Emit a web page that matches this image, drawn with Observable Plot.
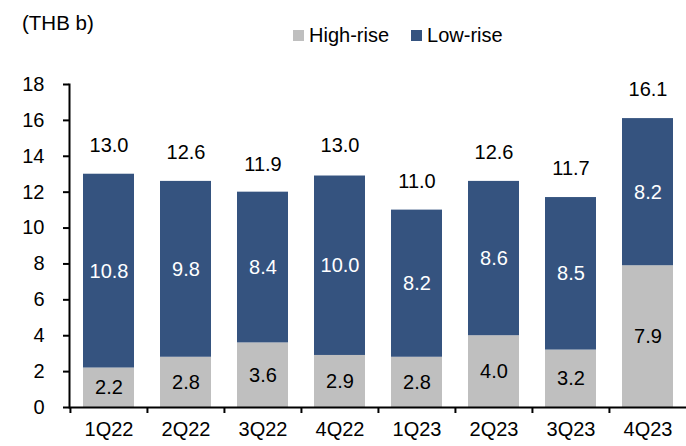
<!DOCTYPE html>
<html>
<head>
<meta charset="utf-8">
<script src="https://cdn.jsdelivr.net/npm/d3@7"></script>
<script src="https://cdn.jsdelivr.net/npm/@observablehq/plot@0.6"></script>
<style>
  body { margin: 0; background: #fff; font-family: "Liberation Sans", Arial, sans-serif; }
  #wrap { width: 686px; position: relative; }
  #head { position: relative; height: 50px; width: 686px; }
  #unit { position: absolute; left: 22px; top: 12px; font-size: 20.5px; line-height: 22px; color: #000; }
  #legend { position: absolute; left: 293px; top: 24px; height: 22px; font-size: 20px; line-height: 22px; color: #000; display: flex; align-items: center; }
  #legend span.sw { display: inline-block; width: 11px; height: 11px; margin-right: 5px; }
  #legend span.item { display: inline-flex; align-items: center; margin-right: 22px; }
</style>
</head>
<body>
<div id="wrap">
  <div id="head">
    <div id="unit">(THB b)</div>
    <div id="legend"></div>
  </div>
  <div id="chart"></div>
</div>
<script>
const quarters = ["1Q22","2Q22","3Q22","4Q22","1Q23","2Q23","3Q23","4Q23"];
const highRise = [2.2, 2.8, 3.6, 2.9, 2.8, 4.0, 3.2, 7.9];
const lowRise  = [10.8, 9.8, 8.4, 10.0, 8.2, 8.6, 8.5, 8.2];
const totals   = [13.0, 12.6, 11.9, 13.0, 11.0, 12.6, 11.7, 16.1];
const seriesNames = ["High-rise", "Low-rise"];
const seriesColors = ["#bfbfbf", "#35537f"];
const yTicks = [0, 2, 4, 6, 8, 10, 12, 14, 16, 18];

const legend = document.getElementById("legend");
seriesNames.forEach((s, i) => {
  const it = document.createElement("span");
  it.className = "item";
  it.innerHTML = `<span class="sw" style="background:${seriesColors[i]}"></span>${s}`;
  legend.appendChild(it);
});

const rows = [];
quarters.forEach((q, i) => {
  rows.push({q, series: "High-rise", value: highRise[i]});
  rows.push({q, series: "Low-rise", value: lowRise[i]});
});
const totalRows = quarters.map((q, i) => ({q, total: totals[i]}));

const width = 686, marginLeft = 69, marginRight = 0;
const step = (width - marginLeft - marginRight) / quarters.length;
const fs = 20;

const stackOpts = {x: "q", y: "value", z: "series", order: seriesNames, text: d => d.value.toFixed(1), fontSize: fs};

const chart = Plot.plot({
  width, height: 396,
  marginLeft, marginRight, marginTop: 34, marginBottom: 39,
  style: { fontFamily: "'Liberation Sans', Arial, sans-serif", fontSize: fs + "px", color: "#000", background: "#fff" },
  x: { domain: quarters, paddingInner: 0.34, paddingOuter: 0.17, label: null },
  y: { domain: [0, 18], ticks: yTicks, label: null },
  color: { domain: seriesNames, range: seriesColors },
  marks: [
    Plot.barY(rows, Plot.stackY({x: "q", y: "value", fill: "series", z: "series", order: seriesNames})),
    Plot.text(rows, Plot.filter(d => d.series === "High-rise", Plot.stackY({...stackOpts, fill: "#000"}))),
    Plot.text(rows, Plot.filter(d => d.series === "Low-rise", Plot.stackY({...stackOpts, fill: "#fff"}))),
    Plot.text(totalRows, {x: "q", y: "total", text: d => d.total.toFixed(1), dy: -29, fill: "#000", fontSize: fs}),
    Plot.axisY({ticks: yTicks, tickSize: 6, tickPadding: 19, strokeWidth: 2, fontSize: fs, label: null}),
    Plot.axisX({tickSize: 6, tickFormat: () => "", dx: -step / 2, strokeWidth: 2, label: null}),
    Plot.axisX({tickSize: 0, tickPadding: 14, fontSize: fs, label: null}),
    Plot.frame({anchor: "left", stroke: "#000", strokeWidth: 2}),
    Plot.ruleY([0], {stroke: "#000", strokeWidth: 2})
  ]
});
document.getElementById("chart").appendChild(chart);
</script>
</body>
</html>
